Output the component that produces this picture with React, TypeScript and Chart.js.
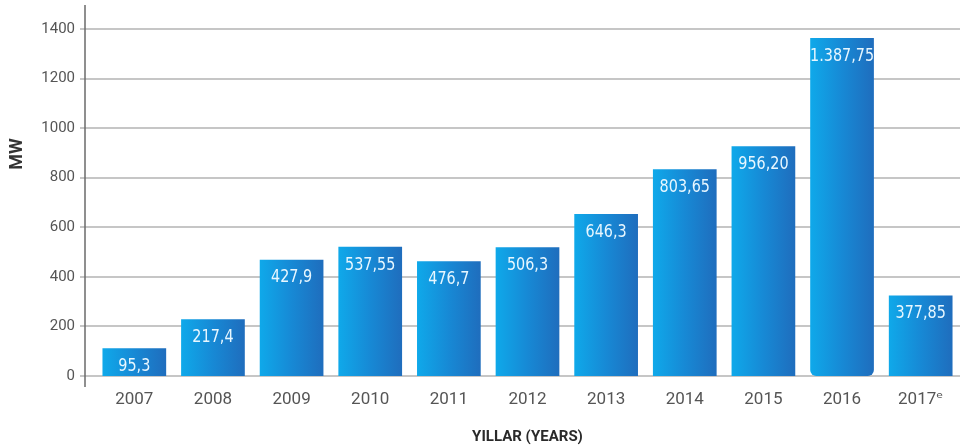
import React, { useEffect, useRef } from 'react';
import { Chart, registerables } from 'chart.js';

Chart.register(...registerables);

const years = ['2007', '2008', '2009', '2010', '2011', '2012', '2013', '2014', '2015', '2016', '2017ᵉ'];
const barHeights = [112, 229, 469, 521, 463, 519, 654, 834, 927, 1364, 325];
const valueLabels = ['95,3', '217,4', '427,9', '537,55', '476,7', '506,3', '646,3', '803,65', '956,20', '1.387,75', '377,85'];
const yTicks = [0, 200, 400, 600, 800, 1000, 1200, 1400];
const yAxisTitle = 'MW';
const xAxisTitle = 'YILLAR (YEARS)';

const TICKFONT = 'Roboto, "DejaVu Sans", sans-serif';

const decor = {
  id: 'decor',
  beforeDatasetsDraw(chart: any) {
    const { ctx, chartArea, scales } = chart;
    const y = scales.y;
    ctx.save();
    ctx.strokeStyle = '#c6c6c6';
    ctx.lineWidth = 2;
    yTicks.forEach((v) => {
      const py = Math.round(y.getPixelForValue(v));
      ctx.beginPath();
      ctx.moveTo(chartArea.left - 15, py);
      ctx.lineTo(chartArea.right, py);
      ctx.stroke();
    });
    ctx.strokeStyle = '#6a6a6a';
    ctx.lineWidth = 1.5;
    ctx.beginPath();
    ctx.moveTo(chartArea.left - 10, chartArea.top - 24);
    ctx.lineTo(chartArea.left - 10, chartArea.bottom + 11);
    ctx.stroke();
    ctx.translate(17, 154);
    ctx.rotate(-Math.PI / 2);
    ctx.font = 'bold 18px Roboto, "DejaVu Sans", sans-serif';
    ctx.fillStyle = '#333';
    ctx.textAlign = 'center';
    ctx.textBaseline = 'middle';
    ctx.fillText(yAxisTitle, 0, 0);
    ctx.restore();
  },
  afterDatasetsDraw(chart: any) {
    const { ctx } = chart;
    const meta = chart.getDatasetMeta(0);
    meta.data.forEach((bar: any, i: number) => {
      ctx.save();
      ctx.font = '18px "DejaVu Sans", sans-serif';
      ctx.fillStyle = '#e8f7ff';
      ctx.textAlign = 'center';
      ctx.textBaseline = 'middle';
      ctx.translate(bar.x, bar.y + 18);
      ctx.scale(0.8, 1);
      ctx.fillText(valueLabels[i], 0, 0);
      ctx.restore();
    });
  },
};

export default function App() {
  const ref = useRef<HTMLCanvasElement>(null);
  useEffect(() => {
    if (!ref.current) return;
    const chart = new Chart(ref.current, {
      type: 'bar',
      data: {
        labels: years,
        datasets: [
          {
            data: barHeights,
            categoryPercentage: 1,
            barPercentage: 0.81,
            borderSkipped: false,
            borderRadius: (c: any) => (c.dataIndex === 9 ? { topLeft: 0, topRight: 0, bottomLeft: 6, bottomRight: 6 } : 0),
            backgroundColor: (c: any) => {
              const ch = c.chart;
              const xs = ch.scales && ch.scales.x;
              if (!xs || !ch.chartArea) return '#1a8ad6';
              const cx = xs.getPixelForValue(c.dataIndex);
              const g = ch.ctx.createLinearGradient(cx - 32, 0, cx + 32, 0);
              g.addColorStop(0, '#0fa9ea');
              g.addColorStop(0.5, '#1789d5');
              g.addColorStop(1, '#1f6dbd');
              return g;
            },
          },
        ],
      },
      options: {
        animation: false,
        responsive: true,
        maintainAspectRatio: false,
        layout: { padding: { top: 27, right: 8, bottom: 0, left: 0 } },
        plugins: { legend: { display: false }, tooltip: { enabled: false } },
        scales: {
          x: {
            afterFit: (s: any) => { s.height = 72; },
            grid: { display: false },
            border: { display: false },
            ticks: { color: '#555', font: { size: 17, family: TICKFONT }, padding: 6 },
            title: {
              display: true,
              text: xAxisTitle,
              color: '#2a2a2a',
              font: { size: 15, weight: 'bold', family: TICKFONT },
              padding: { top: 0, bottom: 2 },
            },
          },
          y: {
            min: 0,
            max: 1400,
            afterFit: (s: any) => { s.width = 95; },
            grid: { display: false, drawTicks: false },
            border: { display: false },
            ticks: {
              stepSize: 200,
              padding: 20,
              color: '#555',
              font: { size: 15, family: TICKFONT },
              callback: (v: any) => String(v),
            },
          },
        },
      },
      plugins: [decor],
    });
    return () => chart.destroy();
  }, []);
  return (
    <div style={{ position: 'absolute', left: 0, top: 0, width: 968, height: 448, background: '#fff' }}>
      <canvas ref={ref} />
    </div>
  );
}
